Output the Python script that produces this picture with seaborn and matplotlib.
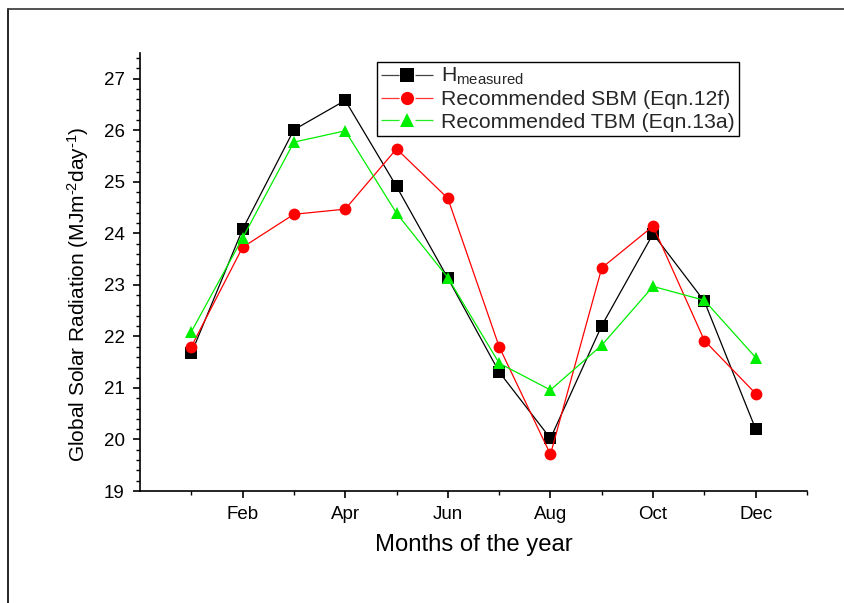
import numpy as np
import pandas as pd
import matplotlib
matplotlib.use("Agg")
import matplotlib.pyplot as plt
from matplotlib.lines import Line2D
from matplotlib.ticker import MultipleLocator, FixedLocator
import seaborn as sns

months = [1, 2, 3, 4, 5, 6, 7, 8, 9, 10, 11, 12]
tick_months = [2, 4, 6, 8, 10, 12]
tick_labels = ["Feb", "Apr", "Jun", "Aug", "Oct", "Dec"]

h_measured = [21.67, 24.08, 26.01, 26.58, 24.91, 23.13, 21.31, 20.02, 22.21, 23.99, 22.68, 20.20]
sbm_12f = [21.80, 23.73, 24.37, 24.47, 25.64, 24.68, 21.80, 19.71, 23.33, 24.14, 21.92, 20.89]
tbm_13a = [22.09, 23.91, 25.77, 25.99, 24.39, 23.14, 21.48, 20.96, 21.83, 22.97, 22.70, 21.59]

lab_h = r"H$_{\mathrm{measured}}$"
lab_s = "Recommended SBM (Eqn.12f)"
lab_t = "Recommended TBM (Eqn.13a)"

df = pd.DataFrame({
    "month": months * 3,
    "value": h_measured + sbm_12f + tbm_13a,
    "series": [lab_h] * 12 + [lab_s] * 12 + [lab_t] * 12,
})

sns.set_style("ticks")
plt.rcParams["font.family"] = ["Liberation Sans", "DejaVu Sans"]
plt.rcParams["mathtext.fontset"] = "custom"
plt.rcParams["mathtext.rm"] = "Liberation Sans"
plt.rcParams["mathtext.default"] = "regular"
plt.rcParams["lines.scale_dashes"] = False

fig = plt.figure(figsize=(8.45, 6.03), dpi=100)
ax = fig.add_axes([140 / 845, 1 - 491 / 603, 667 / 845, 438 / 603])

palette = {lab_h: "#000000", lab_s: "#FF0000", lab_t: "#00EE00"}
markers = {lab_h: "s", lab_s: "o", lab_t: "^"}

sns.lineplot(data=df, x="month", y="value", hue="series", style="series",
             hue_order=[lab_h, lab_s, lab_t], style_order=[lab_h, lab_s, lab_t],
             palette=palette, markers=markers, dashes=False, ax=ax,
             linewidth=0.9, markersize=8.5, markeredgewidth=0, legend=False)

for line, lab in zip(ax.get_lines(), [lab_h, lab_s, lab_t]):
    line.set_markeredgecolor(palette[lab])

ax.set_xlim(0, 13)
ax.set_ylim(19, 27.5)
ax.xaxis.set_major_locator(FixedLocator(tick_months))
ax.set_xticklabels(tick_labels)
ax.xaxis.set_minor_locator(FixedLocator([1, 3, 5, 7, 9, 11, 13]))
ax.yaxis.set_major_locator(MultipleLocator(1))
ax.yaxis.set_minor_locator(MultipleLocator(0.2))

for s in ["top", "right"]:
    ax.spines[s].set_visible(False)
for s in ["left", "bottom"]:
    ax.spines[s].set_linewidth(1.2)
    ax.spines[s].set_color("black")

ax.tick_params(which="major", direction="out", length=5, width=1.2, color="black",
               labelsize=13.5, labelcolor="black", pad=6)
ax.tick_params(which="minor", direction="out", length=3, width=1.0, color="black")

ax.set_xlabel("Months of the year", fontsize=17.2, color="black", labelpad=8)
ax.set_ylabel(r"Global Solar Radiation (MJm$^{\text{-}2}$day$^{\text{-}1}$)", fontsize=15,
              color="black")
ax.yaxis.set_label_coords(-0.074, 0.45)

leg_colors = {lab_h: "#444444", lab_s: "#FF3333", lab_t: "#22EE22"}
handles = [Line2D([], [], color=leg_colors[l], marker=markers[l], markersize=9.5,
                  markerfacecolor=palette[l], markeredgecolor=palette[l],
                  markeredgewidth=0, linewidth=0.9,
                  linestyle=(0, (13.0, 11.5, 14, 100)))
           for l in [lab_h, lab_s, lab_t]]
leg = ax.legend(handles, [lab_h, lab_s, lab_t], loc="upper left",
                bbox_to_anchor=(0.355, 0.98), fontsize=15.3, frameon=True,
                fancybox=False, edgecolor="black", framealpha=1,
                handlelength=2.45, handletextpad=0.35, borderpad=0.2,
                labelspacing=0.15, borderaxespad=0)
leg.get_frame().set_linewidth(1.0)

# figure frame (left and top lines)
fig.add_artist(Line2D([8.5 / 845, 8.5 / 845], [0, 1 - 8.5 / 603], color="black",
                      linewidth=1.2, transform=fig.transFigure))
fig.add_artist(Line2D([8.5 / 845, 1], [1 - 8.5 / 603, 1 - 8.5 / 603], color="#333333",
                      linewidth=1.2, transform=fig.transFigure))

fig.savefig("out.png", dpi=100)
